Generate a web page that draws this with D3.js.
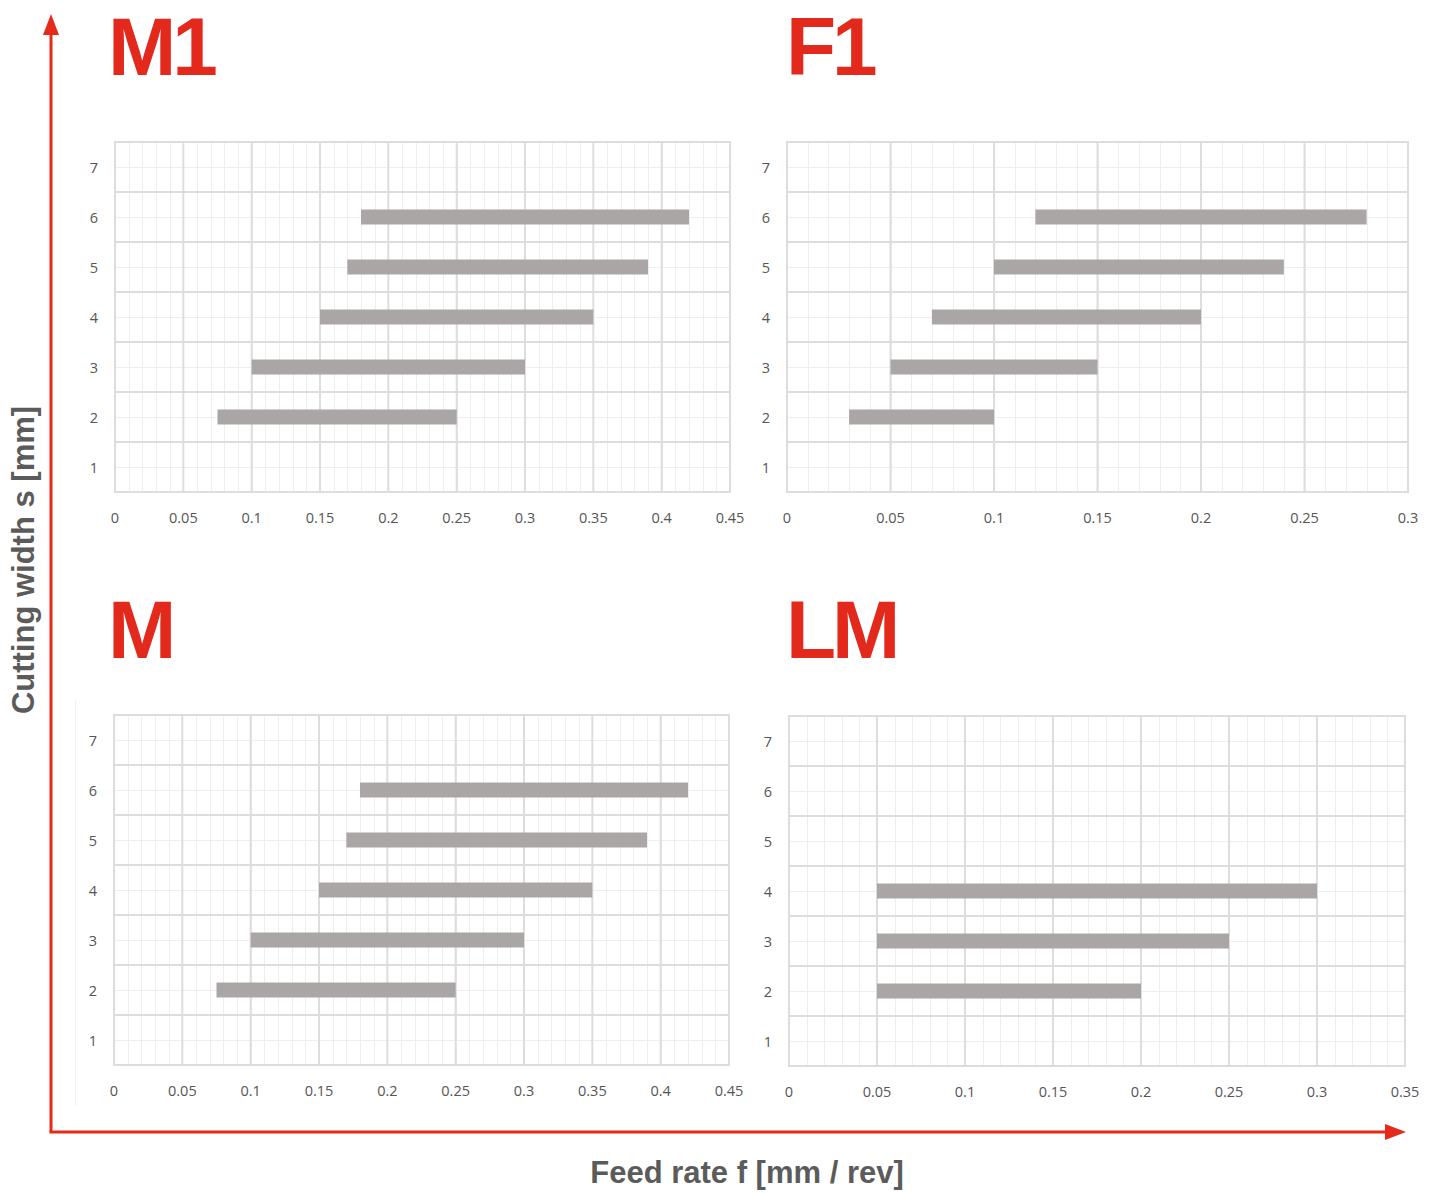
<!DOCTYPE html>
<html>
<head>
<meta charset="utf-8">
<script src="https://cdn.jsdelivr.net/npm/d3@7"></script>
<style>
  body { margin: 0; background: #fff; }
  svg { display: block; }
  .tick-label { font-family: "Open Sans", sans-serif; font-size: 14.5px; fill: #555; }
  .panel-title { font-family: "Liberation Sans", Arial, sans-serif; font-weight: bold; font-size: 82px; letter-spacing: -4px; fill: #e3291b; }
  .axis-title { font-family: "Liberation Sans", Arial, sans-serif; font-weight: bold; font-size: 31px; fill: #5b5b5b; }
</style>
</head>
<body>
<div id="chart"></div>
<script>
// cutting width classes (rows)
var widths = [1, 2, 3, 4, 5, 6, 7];

// M1 : feed rate range per cutting width
var m1Widths = [2, 3, 4, 5, 6];
var m1Min = [0.075, 0.10, 0.15, 0.17, 0.18];
var m1Max = [0.25, 0.30, 0.35, 0.39, 0.42];
var m1Ticks = [0, 0.05, 0.1, 0.15, 0.2, 0.25, 0.3, 0.35, 0.4, 0.45];

// F1
var f1Widths = [2, 3, 4, 5, 6];
var f1Min = [0.03, 0.05, 0.07, 0.10, 0.12];
var f1Max = [0.10, 0.15, 0.20, 0.24, 0.28];
var f1Ticks = [0, 0.05, 0.1, 0.15, 0.2, 0.25, 0.3];

// M
var mWidths = [2, 3, 4, 5, 6];
var mMin = [0.075, 0.10, 0.15, 0.17, 0.18];
var mMax = [0.25, 0.30, 0.35, 0.39, 0.42];
var mTicks = [0, 0.05, 0.1, 0.15, 0.2, 0.25, 0.3, 0.35, 0.4, 0.45];

// LM
var lmWidths = [2, 3, 4];
var lmMin = [0.05, 0.05, 0.05];
var lmMax = [0.20, 0.25, 0.30];
var lmTicks = [0, 0.05, 0.1, 0.15, 0.2, 0.25, 0.3, 0.35];

var W = 1438, H = 1193;
var red = "#e52a1a";

var svg = d3.select("#chart").append("svg")
    .attr("width", W)
    .attr("height", H);

function drawPanel(opt){
    var g = svg.append("g")
        .attr("transform", "translate(" + opt.left + "," + opt.top + ")");
    var w = opt.right - opt.left, h = opt.bottom - opt.top;
    var xMax = opt.ticks[opt.ticks.length - 1];

    var x = d3.scaleLinear().domain([0, xMax]).range([0, w]);
    var y = d3.scaleBand().domain(widths.slice().reverse()).range([0, h]);

    // minor vertical grid (0.01 steps)
    var minor = d3.range(0, Math.round(xMax * 100) + 1).map(function(i){ return i / 100; });
    g.selectAll(".vminor").data(minor).enter().append("line")
        .attr("x1", function(d){ return Math.round(x(d)) + 0.5; })
        .attr("x2", function(d){ return Math.round(x(d)) + 0.5; })
        .attr("y1", 0).attr("y2", h)
        .attr("stroke", "#eeeeee").attr("stroke-width", 1);

    // minor horizontal grid (row centres)
    g.selectAll(".hminor").data(widths).enter().append("line")
        .attr("x1", 0).attr("x2", w)
        .attr("y1", function(d){ return Math.round(y(d) + y.bandwidth() / 2) + 0.5; })
        .attr("y2", function(d){ return Math.round(y(d) + y.bandwidth() / 2) + 0.5; })
        .attr("stroke", "#eeeeee").attr("stroke-width", 1);

    // major vertical grid
    g.selectAll(".vmajor").data(opt.ticks).enter().append("line")
        .attr("x1", function(d){ return x(d); })
        .attr("x2", function(d){ return x(d); })
        .attr("y1", 0).attr("y2", h)
        .attr("stroke", "#dddddd").attr("stroke-width", 2);

    // major horizontal grid (row borders)
    var borders = widths.map(function(d){ return y(d); }).concat([h]);
    g.selectAll(".hmajor").data(borders).enter().append("line")
        .attr("x1", -1).attr("x2", w + 1)
        .attr("y1", function(d){ return d; })
        .attr("y2", function(d){ return d; })
        .attr("stroke", "#dddddd").attr("stroke-width", 2);

    // bars
    var rows = opt.rows.map(function(r, i){ return { s: r, a: opt.min[i], b: opt.max[i] }; });
    var barH = 15;
    g.selectAll(".bar").data(rows).enter().append("rect")
        .attr("x", function(d){ return x(d.a); })
        .attr("width", function(d){ return x(d.b) - x(d.a); })
        .attr("y", function(d){ return y(d.s) + y.bandwidth() / 2 - barH / 2; })
        .attr("height", barH)
        .attr("fill", "#aaa6a5");

    // y labels
    g.selectAll(".ylab").data(widths).enter().append("text")
        .attr("class", "tick-label")
        .attr("x", -21)
        .attr("y", function(d){ return y(d) + y.bandwidth() / 2 + 1; })
        .attr("dy", "0.35em")
        .attr("text-anchor", "middle")
        .text(function(d){ return d; });

    // x labels
    g.selectAll(".xlab").data(opt.ticks).enter().append("text")
        .attr("class", "tick-label")
        .attr("x", function(d){ return x(d); })
        .attr("y", h + 26)
        .attr("dy", "0.35em")
        .attr("text-anchor", "middle")
        .text(function(d){ return d; });

    // panel title
    svg.append("text")
        .attr("class", "panel-title")
        .attr("x", opt.titleX)
        .attr("y", opt.titleY)
        .text(opt.title);
}

drawPanel({ title: "M1", titleX: 108, titleY: 75, left: 115, right: 730, top: 142, bottom: 492,
    rows: m1Widths, min: m1Min, max: m1Max, ticks: m1Ticks });
drawPanel({ title: "F1", titleX: 786, titleY: 75, left: 787, right: 1408, top: 142, bottom: 492,
    rows: f1Widths, min: f1Min, max: f1Max, ticks: f1Ticks });
drawPanel({ title: "M", titleX: 108, titleY: 658, left: 114, right: 729, top: 715, bottom: 1065,
    rows: mWidths, min: mMin, max: mMax, ticks: mTicks });
drawPanel({ title: "LM", titleX: 786, titleY: 658, left: 789, right: 1405, top: 716, bottom: 1066,
    rows: lmWidths, min: lmMin, max: lmMax, ticks: lmTicks });

// faint edge left of lower panels
svg.append("line")
    .attr("x1", 75.5).attr("x2", 75.5).attr("y1", 700).attr("y2", 1106)
    .attr("stroke", "#f0f0f0").attr("stroke-width", 1);

// red axes arrows
var ox = 51, oy = 1132;
svg.append("line")
    .attr("x1", ox).attr("y1", oy).attr("x2", ox).attr("y2", 32)
    .attr("stroke", red).attr("stroke-width", 3);
svg.append("path")
    .attr("d", "M" + ox + ",14 L" + (ox - 8) + ",35 L" + (ox + 8) + ",35 Z")
    .attr("fill", red);
svg.append("line")
    .attr("x1", ox - 1.5).attr("y1", oy).attr("x2", 1388).attr("y2", oy)
    .attr("stroke", red).attr("stroke-width", 3);
svg.append("path")
    .attr("d", "M1406," + oy + " L1385," + (oy - 8) + " L1385," + (oy + 8) + " Z")
    .attr("fill", red);

// axis titles
svg.append("text")
    .attr("class", "axis-title")
    .attr("x", 747)
    .attr("y", 1183)
    .attr("text-anchor", "middle")
    .text("Feed rate f [mm / rev]");

svg.append("text")
    .attr("class", "axis-title")
    .attr("transform", "translate(34,560) rotate(-90)")
    .attr("text-anchor", "middle")
    .text("Cutting width s [mm]");
</script>
</body>
</html>
